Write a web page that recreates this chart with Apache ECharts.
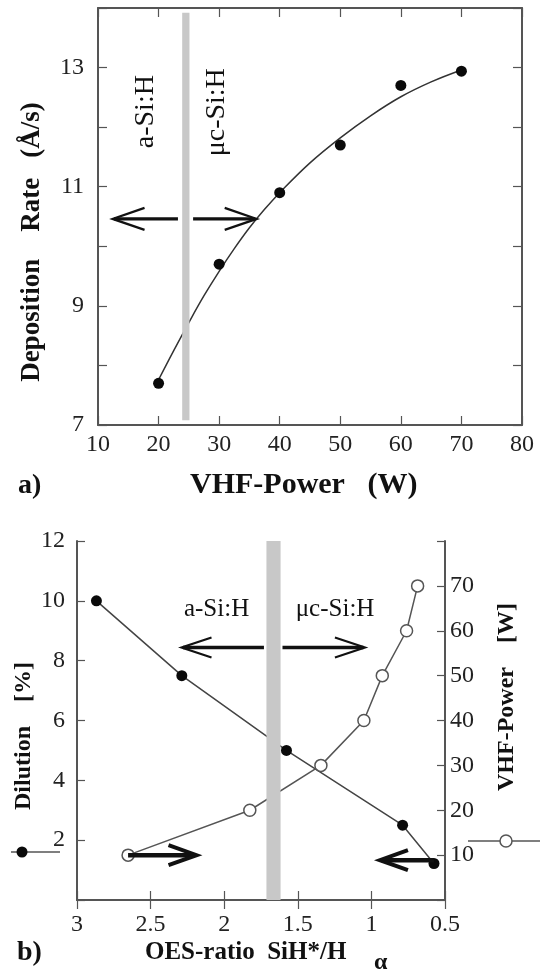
<!DOCTYPE html>
<html>
<head>
<meta charset="utf-8">
<script src="https://cdn.jsdelivr.net/npm/echarts@6/dist/echarts.min.js"></script>
<style>
html,body{margin:0;padding:0;background:#fff;}
#c{width:545px;height:970px;}
</style>
</head>
<body>
<div id="c"></div>
<script>
// ---- (a) Deposition rate vs VHF power ----
const powerW = [20, 30, 40, 50, 60, 70];
const depRate = [7.7, 9.7, 10.9, 11.7, 12.7, 12.94];
const fitPower = [20, 22.5, 25, 27.5, 30, 32.5, 35, 37.5, 40, 45, 50, 55, 60, 65, 70];
const fitRate = [7.76, 8.25, 8.72, 9.17, 9.58, 9.96, 10.31, 10.62, 10.9, 11.4, 11.82, 12.19, 12.51, 12.76, 12.96];
const topXTicks = [10, 20, 30, 40, 50, 60, 70, 80];
const topYLabels = [7, 9, 11, 13];
const topBand = [23.9, 25.1, 7.08, 13.92];            // x0, x1, y0, y1
const topArrows = [[23.2, 10.46, 12.4], [25.7, 10.46, 36.2]]; // xStart, y, xTip
const topTexts = ['a-Si:H', 'μc-Si:H'];
const topTextPos = [[17.8, 12.26], [29.6, 12.25]];

// ---- (b) Dilution / VHF power vs OES ratio ----
const oesDil = [2.868, 2.288, 1.577, 0.788, 0.575];
const dilution = [10, 7.5, 5, 2.5, 1.22];
const oesVhf = [2.653, 1.826, 1.343, 1.051, 0.926, 0.761, 0.686];
const vhfPower = [10, 20, 30, 40, 50, 60, 70];
const botXTicks = [3, 2.5, 2, 1.5, 1, 0.5];
const botLeftLabels = [2, 4, 6, 8, 10, 12];
const botRightLabels = [10, 20, 30, 40, 50, 60, 70];
const botBand = [1.617, 1.713, 0, 12];
const botArrows = [[1.73, 8.44, 2.29], [1.604, 8.44, 1.044]];
const botSmallArrows = [[2.653, 1.5, 2.188], [0.575, 1.33, 0.942]];
const botTexts = ['a-Si:H', 'μc-Si:H'];
const botTextPos = [[2.052, 9.7], [1.247, 9.7]];

const SERIF = '"Liberation Serif", "Times New Roman", serif';
const FRAME = '#555';

const chart = echarts.init(document.getElementById('c'), null, {renderer: 'canvas'});

function arrowRender(headLen, headHalf, lw, headLw) {
  return function (params, api) {
    const a = api.coord([api.value(0), api.value(1)]);
    const b = api.coord([api.value(2), api.value(1)]);
    const dir = b[0] > a[0] ? 1 : -1;
    return {
      type: 'group',
      children: [
        {type: 'line', shape: {x1: a[0], y1: a[1], x2: b[0] - dir * 1.5, y2: b[1]},
         style: {stroke: '#111', lineWidth: lw}},
        {type: 'polyline',
         shape: {points: [[b[0] - dir * headLen, b[1] - headHalf], [b[0], b[1]], [b[0] - dir * headLen, b[1] + headHalf]]},
         style: {stroke: '#111', lineWidth: headLw, fill: null, lineJoin: 'miter'}}
      ]
    };
  };
}
function bandRender(params, api) {
  const p0 = api.coord([api.value(0), api.value(2)]);
  const p1 = api.coord([api.value(1), api.value(3)]);
  return {type: 'rect',
    shape: {x: Math.min(p0[0], p1[0]), y: Math.min(p0[1], p1[1]), width: Math.abs(p1[0] - p0[0]), height: Math.abs(p1[1] - p0[1])},
    style: {fill: '#c8c8c8'}};
}
function textRender(texts, fontSize, rot) {
  return function (params, api) {
    const p = api.coord([api.value(0), api.value(1)]);
    return {type: 'text', x: p[0], y: p[1], rotation: rot,
      style: {text: texts[api.value(2)], font: fontSize + 'px ' + SERIF, fill: '#111',
        align: 'center', verticalAlign: 'middle', textAlign: 'center', textVerticalAlign: 'middle'}};
  };
}

const axisLine = {show: true, lineStyle: {color: FRAME, width: 2}};
const tickIn = (len) => ({show: true, inside: true, length: len, lineStyle: {color: FRAME, width: 1.2}});
const lbl = (extra) => Object.assign({fontFamily: SERIF, fontSize: 24, color: '#222'}, extra);

const option = {
  backgroundColor: '#fff',
  animation: false,
  grid: [
    {left: 98, top: 8, width: 424, height: 417},
    {left: 77, top: 541, width: 368, height: 359}
  ],
  xAxis: [
    {gridIndex: 0, type: 'value', min: 10, max: 80, interval: 10, position: 'bottom',
      axisLine: axisLine, axisTick: tickIn(9), splitLine: {show: false},
      axisLabel: lbl({margin: 8, formatter: v => topXTicks.includes(v) ? String(v) : ''})},
    {gridIndex: 0, type: 'value', min: 10, max: 80, interval: 10, position: 'top',
      axisLine: axisLine, axisTick: tickIn(9), splitLine: {show: false}, axisLabel: {show: false}},
    {gridIndex: 1, type: 'value', min: 0.5, max: 3, interval: 0.5, inverse: true, position: 'bottom',
      axisLine: axisLine, axisTick: tickIn(9), splitLine: {show: false},
      axisLabel: lbl({margin: 13, formatter: v => botXTicks.includes(v) ? String(v) : ''})},
    {gridIndex: 1, type: 'value', min: 0.5, max: 3, interval: 0.5, inverse: true, position: 'top',
      axisLine: axisLine, axisTick: tickIn(9), splitLine: {show: false}, axisLabel: {show: false}}
  ],
  yAxis: [
    {gridIndex: 0, type: 'value', min: 7, max: 14, interval: 1, position: 'left',
      axisLine: axisLine, axisTick: tickIn(9), splitLine: {show: false},
      axisLabel: lbl({margin: 14, formatter: v => topYLabels.includes(v) ? String(v) : ''})},
    {gridIndex: 0, type: 'value', min: 7, max: 14, interval: 1, position: 'right',
      axisLine: axisLine, axisTick: tickIn(9), splitLine: {show: false}, axisLabel: {show: false}},
    {gridIndex: 1, type: 'value', min: 0, max: 12, interval: 2, position: 'left',
      axisLine: axisLine, axisTick: tickIn(8), splitLine: {show: false},
      axisLabel: lbl({margin: 12, formatter: v => botLeftLabels.includes(v) ? String(v) : ''})},
    {gridIndex: 1, type: 'value', min: 0, max: 80, interval: 10, position: 'right',
      axisLine: axisLine, axisTick: tickIn(8), splitLine: {show: false},
      axisLabel: lbl({margin: 5, formatter: v => botRightLabels.includes(v) ? String(v) : ''})}
  ],
  series: [
    {type: 'line', name: 'fit', xAxisIndex: 0, yAxisIndex: 0, smooth: 0.4, showSymbol: false, symbol: 'none',
      data: fitPower.map((x, i) => [x, fitRate[i]]), lineStyle: {color: '#333', width: 1.5}, z: 2},
    {type: 'scatter', name: 'Deposition rate', xAxisIndex: 0, yAxisIndex: 0, symbol: 'circle', symbolSize: 11,
      data: powerW.map((x, i) => [x, depRate[i]]), itemStyle: {color: '#0a0a0a', opacity: 1}, z: 4},
    {type: 'custom', xAxisIndex: 0, yAxisIndex: 0, renderItem: bandRender, data: [topBand], z: 5, silent: true,
      encode: {x: [0, 1], y: [2, 3]}},
    {type: 'custom', xAxisIndex: 0, yAxisIndex: 0, renderItem: arrowRender(32, 11, 3.2, 2.2), data: topArrows, z: 6,
      silent: true, encode: {x: [0, 2], y: 1}},
    {type: 'custom', xAxisIndex: 0, yAxisIndex: 0, renderItem: textRender(topTexts, 28, Math.PI / 2),
      data: topTextPos.map((p, i) => [p[0], p[1], i]), z: 6, silent: true, encode: {x: 0, y: 1}},

    {type: 'line', name: 'Dilution', xAxisIndex: 2, yAxisIndex: 2, symbol: 'circle', symbolSize: 11,
      data: oesDil.map((x, i) => [x, dilution[i]]), lineStyle: {color: '#444', width: 1.5},
      itemStyle: {color: '#0a0a0a', borderColor: '#0a0a0a', borderWidth: 0, opacity: 1}, z: 3},
    {type: 'line', name: 'VHF-Power', xAxisIndex: 2, yAxisIndex: 3, symbol: 'circle', symbolSize: 12,
      data: oesVhf.map((x, i) => [x, vhfPower[i]]), lineStyle: {color: '#555', width: 1.5},
      itemStyle: {color: '#fff', borderColor: '#555', borderWidth: 1.5, opacity: 1}, z: 3},
    {type: 'custom', xAxisIndex: 2, yAxisIndex: 2, renderItem: bandRender, data: [botBand], z: 5, silent: true,
      encode: {x: [0, 1], y: [2, 3]}},
    {type: 'custom', xAxisIndex: 2, yAxisIndex: 2, renderItem: arrowRender(30, 10, 3.5, 2.2), data: botArrows, z: 6,
      silent: true, encode: {x: [0, 2], y: 1}},
    {type: 'custom', xAxisIndex: 2, yAxisIndex: 2, renderItem: arrowRender(28, 10, 4.5, 4), data: botSmallArrows, z: 6,
      silent: true, encode: {x: [0, 2], y: 1}},
    {type: 'custom', xAxisIndex: 2, yAxisIndex: 2, renderItem: textRender(botTexts, 25, 0),
      data: botTextPos.map((p, i) => [p[0], p[1], i]), z: 6, silent: true, encode: {x: 0, y: 1}}
  ],
  graphic: [
    {type: 'text', x: 32, y: 242, rotation: Math.PI / 2,
      style: {text: 'Deposition    Rate   (Å/s)', font: 'bold 27px ' + SERIF, fill: '#111',
        align: 'center', verticalAlign: 'middle', textAlign: 'center', textVerticalAlign: 'middle'}},
    {type: 'text', x: 190, y: 485,
      style: {text: 'VHF-Power   (W)', font: 'bold 30px ' + SERIF, fill: '#111',
        align: 'left', verticalAlign: 'middle', textAlign: 'left', textVerticalAlign: 'middle'}},
    {type: 'text', x: 18, y: 486,
      style: {text: 'a)', font: 'bold 28px ' + SERIF, fill: '#111',
        align: 'left', verticalAlign: 'middle', textAlign: 'left', textVerticalAlign: 'middle'}},
    {type: 'text', x: 17, y: 953,
      style: {text: 'b)', font: 'bold 28px ' + SERIF, fill: '#111',
        align: 'left', verticalAlign: 'middle', textAlign: 'left', textVerticalAlign: 'middle'}},
    {type: 'text', x: 24, y: 736, rotation: Math.PI / 2,
      style: {text: 'Dilution    [%]', font: 'bold 24px ' + SERIF, fill: '#111',
        align: 'center', verticalAlign: 'middle', textAlign: 'center', textVerticalAlign: 'middle'}},
    {type: 'text', x: 507, y: 697, rotation: Math.PI / 2,
      style: {text: 'VHF-Power    [W]', font: 'bold 24px ' + SERIF, fill: '#111',
        align: 'center', verticalAlign: 'middle', textAlign: 'center', textVerticalAlign: 'middle'}},
    {type: 'text', x: 145, y: 953,
      style: {text: 'OES-ratio  SiH*/H', font: 'bold 25px ' + SERIF, fill: '#111',
        align: 'left', verticalAlign: 'middle', textAlign: 'left', textVerticalAlign: 'middle'}},
    {type: 'text', x: 374, y: 963,
      style: {text: 'α', font: 'bold 24px ' + SERIF, fill: '#111',
        align: 'left', verticalAlign: 'middle', textAlign: 'left', textVerticalAlign: 'middle'}},
    // legend keys
    {type: 'line', shape: {x1: 11, y1: 852, x2: 60, y2: 852}, style: {stroke: '#555', lineWidth: 1.5}},
    {type: 'circle', shape: {cx: 22, cy: 852, r: 5.5}, style: {fill: '#0a0a0a'}},
    {type: 'line', shape: {x1: 468, y1: 841, x2: 540, y2: 841}, style: {stroke: '#555', lineWidth: 1.5}},
    {type: 'circle', shape: {cx: 506, cy: 841, r: 6}, style: {fill: '#fff', stroke: '#555', lineWidth: 1.5}}
  ]
};
chart.setOption(option);
</script>
</body>
</html>
